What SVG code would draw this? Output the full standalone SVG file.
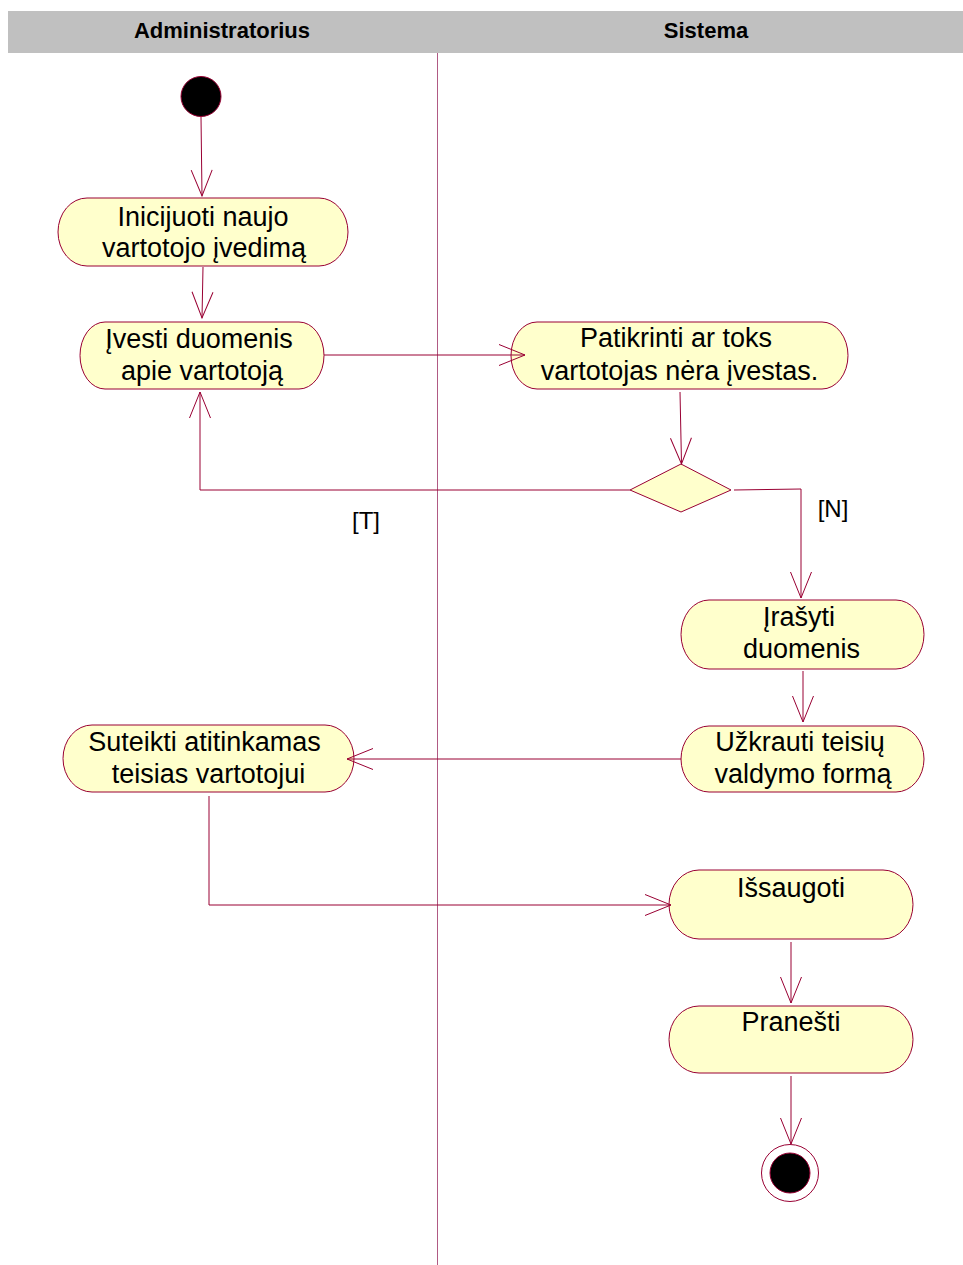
<svg xmlns="http://www.w3.org/2000/svg" width="963" height="1265" viewBox="0 0 963 1265">
<style>
.node rect{fill:#FFFFCC;stroke:#990033;stroke-width:1}
.t{font-family:"Liberation Sans",Arial,sans-serif;font-size:27px;fill:#000;text-anchor:middle}
.h{font-family:"Liberation Sans",Arial,sans-serif;font-size:22px;font-weight:bold;fill:#000;text-anchor:middle}
.lbl{font-family:"Liberation Sans",Arial,sans-serif;font-size:24px;fill:#000;text-anchor:middle}
#connectors path{fill:none;stroke:#990033;stroke-width:1;marker-end:url(#arr)}
</style>
<defs>
<marker id="arr" markerUnits="userSpaceOnUse" viewBox="-28 -13 30 26" refX="0" refY="0" markerWidth="30" markerHeight="26" orient="auto">
<path d="M-26,-10.5 L0,0 L-26,10.5" fill="none" stroke="#990033" stroke-width="1"/>
</marker>
</defs>
<rect width="963" height="1265" fill="#FFFFFF"/>
<g id="lanes">
<rect x="8" y="11" width="955" height="42" fill="#C0C0C0"/>
<text class="h" x="222" y="38">Administratorius</text>
<text class="h" x="706" y="38">Sistema</text>
<line x1="437.5" y1="53" x2="437.5" y2="1265" stroke="#b05a84" stroke-width="1"/>
</g>
<g id="start">
<circle cx="201" cy="96.5" r="20" fill="#000" stroke="#990033" stroke-width="1"/>
</g>
<g id="n1" class="node">
<rect x="58" y="198" width="290" height="68" rx="29" ry="34"/>
<text class="t" x="203" y="226">Inicijuoti naujo</text>
<text class="t" x="204" y="257">vartotojo įvedimą</text>
</g>
<g id="n2" class="node">
<rect x="80" y="322" width="244" height="67" rx="25" ry="33.5"/>
<text class="t" x="199" y="348">Įvesti duomenis</text>
<text class="t" x="202" y="380">apie vartotoją</text>
</g>
<g id="n3" class="node">
<rect x="511" y="322" width="337" height="67" rx="26" ry="33.5"/>
<text class="t" x="676" y="347">Patikrinti ar toks</text>
<text class="t" x="679.5" y="380">vartotojas nėra įvestas.</text>
</g>
<g id="decision">
<polygon points="681,464 731,490 681,512 630,490" fill="#FFFFCC" stroke="#990033" stroke-width="1"/>
</g>
<g id="n4" class="node">
<rect x="681" y="600" width="243" height="69" rx="28" ry="34.5"/>
<text class="t" x="799" y="626">Įrašyti</text>
<text class="t" x="801.5" y="658">duomenis</text>
</g>
<g id="n5" class="node">
<rect x="681" y="726" width="243" height="66" rx="28" ry="33"/>
<text class="t" x="800" y="751">Užkrauti teisių</text>
<text class="t" x="803" y="783">valdymo formą</text>
</g>
<g id="n6" class="node">
<rect x="63" y="725" width="291" height="67" rx="29" ry="33.5"/>
<text class="t" x="204.5" y="751">Suteikti atitinkamas</text>
<text class="t" x="208.5" y="783">teisias vartotojui</text>
</g>
<g id="n7" class="node">
<rect x="669" y="870" width="244" height="69" rx="30" ry="34.5"/>
<text class="t" x="791" y="897">Išsaugoti</text>
</g>
<g id="n8" class="node">
<rect x="669" y="1006" width="244" height="67" rx="30" ry="33.5"/>
<text class="t" x="791" y="1031">Pranešti</text>
</g>
<g id="end">
<circle cx="790" cy="1173" r="28.5" fill="#FFFFFF" stroke="#990033" stroke-width="1"/>
<circle cx="790" cy="1173" r="20" fill="#000" stroke="#990033" stroke-width="1"/>
</g>
<g id="connectors">
<path d="M201,117 L202,196"/>
<path d="M203,267 L202,318"/>
<path d="M324,355 L525,355"/>
<path d="M680,392 L681.5,464"/>
<path d="M630,490 L200,490 L200,392"/>
<path d="M734,490 L801,489 L801,598"/>
<path d="M803,671 L803,722"/>
<path d="M681,759 L347,759"/>
<path d="M209,796 L209,905 L671,905"/>
<path d="M791,942 L791,1003"/>
<path d="M791,1076 L791,1144"/>
<text class="lbl" x="366" y="529">[T]</text>
<text class="lbl" x="833" y="517">[N]</text>
</g>
</svg>
